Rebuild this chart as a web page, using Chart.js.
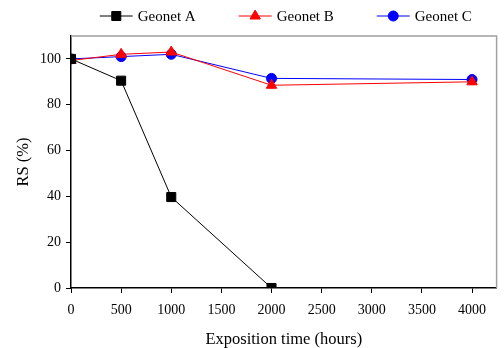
<!DOCTYPE html>
<html>
<head>
<meta charset="utf-8">
<script src="https://cdn.jsdelivr.net/npm/chart.js@4/dist/chart.umd.min.js"></script>
<style>
  html, body { margin: 0; padding: 0; background: #fff; }
  #wrap { width: 504px; height: 348px; }
</style>
</head>
<body>
<div id="wrap"><canvas id="rsChart" width="504" height="348"></canvas></div>
<script>
// data
const hoursA = [0, 500, 1000, 2000];
const geonetA = [100, 90.5, 39.7, 0];
const hoursB = [0, 500, 1000, 2000, 4000];
const geonetB = [99.3, 102, 103, 88.5, 90];
const hoursC = [0, 500, 1000, 2000, 4000];
const geonetC = [100, 101, 102, 91.5, 91];
const seriesNames = ['Geonet A', 'Geonet B', 'Geonet C'];
const xTicks = [0, 500, 1000, 1500, 2000, 2500, 3000, 3500, 4000];
const yTicks = [0, 20, 40, 60, 80, 100];

const FONT = '"Liberation Serif", "Times New Roman", serif';

function toPoints(xs, ys) {
    return xs.map((x, i) => ({ x: x, y: ys[i] }));
}

// custom legend: line segment with marker, then the name
const lineLegend = {
    id: 'lineLegend',
    afterDraw(chart) {
        const ctx = chart.ctx;
        const area = chart.chartArea;
        ctx.save();
        ctx.font = '15px ' + FONT;
        const seg = 33, gapText = 5, gapItem = 43;
        const widths = chart.data.datasets.map(ds => ctx.measureText(ds.label).width);
        const total = widths.reduce((a, w) => a + seg + gapText + w, 0) + gapItem * (widths.length - 1);
        let x = (area.left + area.right) / 2 - total / 2 + 2;
        const y = 16;
        chart.data.datasets.forEach((ds, i) => {
            ctx.strokeStyle = ds.borderColor;
            ctx.lineWidth = 1;
            ctx.beginPath();
            ctx.moveTo(x, y);
            ctx.lineTo(x + seg, y);
            ctx.stroke();
            ctx.fillStyle = ds.pointBackgroundColor;
            Chart.helpers.drawPoint(ctx, {
                pointStyle: ds.pointStyle,
                radius: ds.pointRadius,
                rotation: 0,
                borderWidth: 1
            }, x + seg / 2, y);
            ctx.font = '15px ' + FONT;
            ctx.fillStyle = '#000';
            ctx.textBaseline = 'middle';
            ctx.textAlign = 'left';
            ctx.fillText(ds.label, x + seg + gapText, y + 1);
            x += seg + gapText + widths[i] + gapItem;
        });
        // gray frame on top and right
        ctx.strokeStyle = '#a0a0a0';
        ctx.lineWidth = 1.5;
        ctx.beginPath();
        ctx.moveTo(area.left, area.top);
        ctx.lineTo(area.right, area.top);
        ctx.lineTo(area.right, area.bottom);
        ctx.stroke();
        ctx.restore();
    }
};

const ctx = document.getElementById('rsChart').getContext('2d');
const rsChart = new Chart(ctx, {
    type: 'line',
    data: {
        datasets: [{
            label: seriesNames[0],
            data: toPoints(hoursA, geonetA),
            borderColor: '#000000',
            backgroundColor: '#000000',
            pointBackgroundColor: '#000000',
            pointStyle: 'rect',
            pointRadius: 6.4,
            borderWidth: 1
        }, {
            label: seriesNames[1],
            data: toPoints(hoursB, geonetB),
            borderColor: '#ff0000',
            backgroundColor: '#ff0000',
            pointBackgroundColor: '#ff0000',
            pointStyle: 'triangle',
            pointRadius: 6,
            borderWidth: 1
        }, {
            label: seriesNames[2],
            data: toPoints(hoursC, geonetC),
            borderColor: '#0000ff',
            backgroundColor: '#0000ff',
            pointBackgroundColor: '#0000ff',
            pointStyle: 'circle',
            pointRadius: 5,
            borderWidth: 1
        }]
    },
    options: {
        responsive: false,
        animation: false,
        layout: { padding: { top: 36, right: 1, left: 0, bottom: 0 } },
        plugins: {
            legend: { display: false },
            tooltip: { enabled: false }
        },
        scales: {
            x: {
                type: 'linear',
                min: 0,
                max: 4245,
                afterFit(scale) { scale.height = 60; },
                afterBuildTicks(scale) { scale.ticks = xTicks.map(v => ({ value: v })); },
                ticks: {
                    autoSkip: false,
                    color: '#000',
                    font: { family: FONT, size: 14 },
                    padding: 9,
                    maxRotation: 0,
                    callback: v => String(v)
                },
                grid: {
                    drawOnChartArea: false,
                    tickLength: 5,
                    color: '#000'
                },
                border: { color: '#000', width: 1.5 },
                title: {
                    display: true,
                    text: 'Exposition time (hours)',
                    color: '#000',
                    font: { family: FONT, size: 16.5 },
                    padding: { top: 4, bottom: -2 }
                }
            },
            y: {
                min: 0,
                max: 110,
                afterFit(scale) { scale.width = 71; },
                afterBuildTicks(scale) { scale.ticks = yTicks.map(v => ({ value: v })); },
                ticks: {
                    autoSkip: false,
                    color: '#000',
                    font: { family: FONT, size: 14 },
                    padding: 5,
                    callback: v => String(v)
                },
                grid: {
                    drawOnChartArea: false,
                    tickLength: 5,
                    color: '#000'
                },
                border: { color: '#000', width: 1.5 },
                title: {
                    display: true,
                    text: 'RS (%)',
                    color: '#000',
                    font: { family: FONT, size: 16.5 },
                    padding: { top: 14, bottom: 6 }
                }
            }
        }
    },
    plugins: [lineLegend]
});
</script>
</body>
</html>
